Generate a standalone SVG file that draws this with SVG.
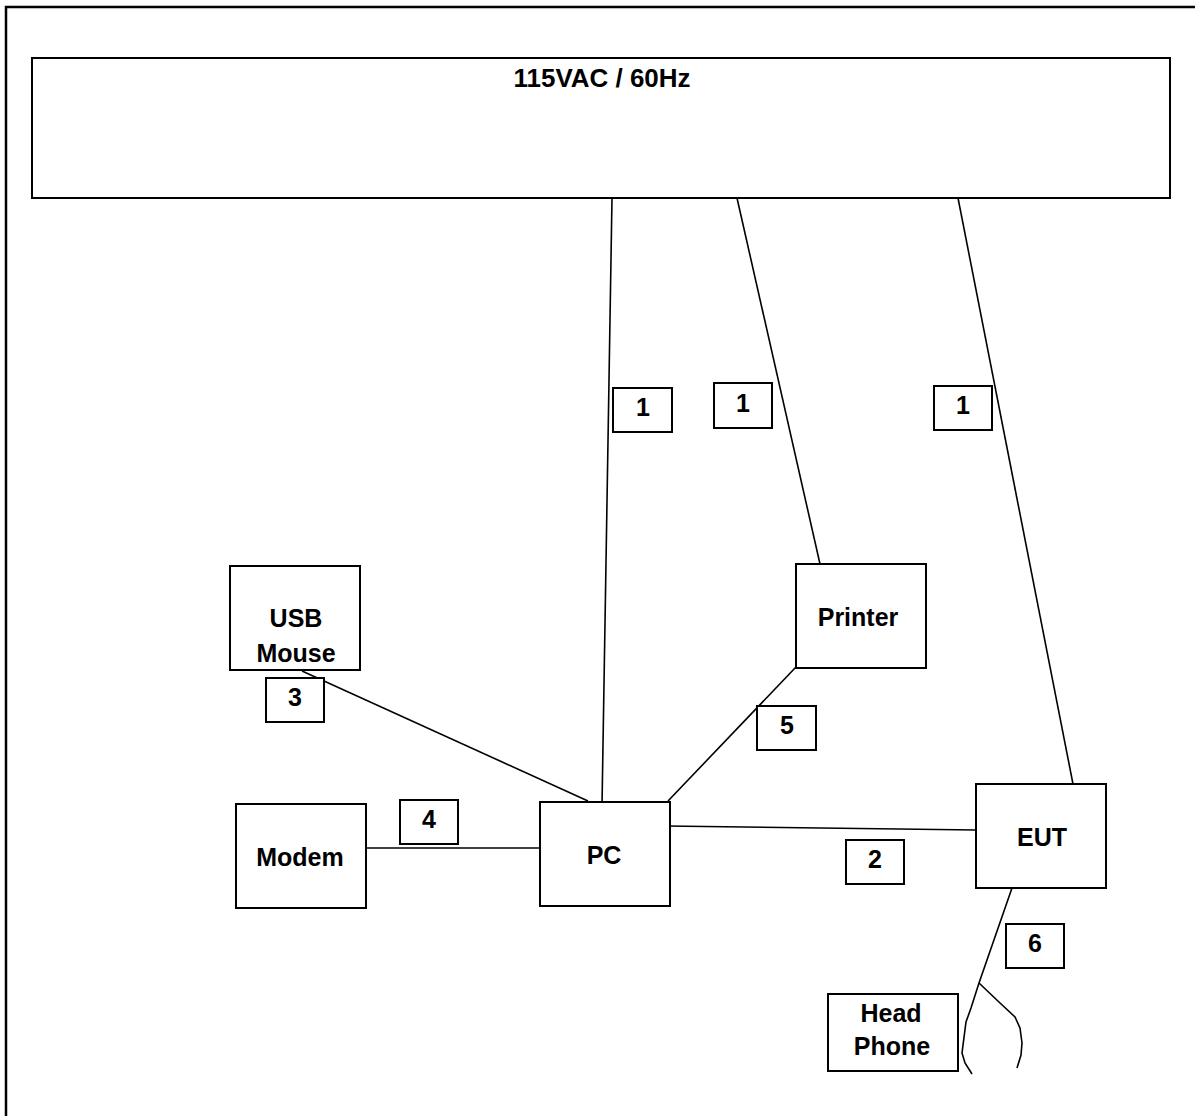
<svg xmlns="http://www.w3.org/2000/svg" width="1195" height="1116" viewBox="0 0 1195 1116">
<style>
.box{fill:#fff;stroke:#000;stroke-width:2}
.lbl{fill:#fff;stroke:#000;stroke-width:2}
.t{font-family:"Liberation Sans",Arial,sans-serif;font-weight:bold;font-size:25px;fill:#000;text-anchor:middle}
.n{font-family:"Liberation Sans",Arial,sans-serif;font-weight:bold;font-size:25px;fill:#000;text-anchor:middle}
.c{fill:none;stroke:#000;stroke-width:1.6}
</style>
<rect width="1195" height="1116" fill="#fff"/>
<rect x="6" y="7" width="1200" height="1120" fill="none" stroke="#000" stroke-width="2.5"/>
<g id="power">
<rect class="box" x="32" y="58" width="1138" height="140"/>
<text class="t" x="602" y="87" textLength="177" lengthAdjust="spacingAndGlyphs">115VAC / 60Hz</text>
</g>
<g id="connectors">
<line class="c" x1="612" y1="198" x2="602" y2="806"/>
<line class="c" x1="737" y1="198" x2="820" y2="564"/>
<line class="c" x1="958" y1="198" x2="1073" y2="784"/>
<line class="c" x1="302" y1="671" x2="588" y2="801"/>
<line class="c" x1="366" y1="848" x2="540" y2="848"/>
<line class="c" x1="796" y1="667" x2="668" y2="801"/>
<line class="c" x1="666" y1="826" x2="976" y2="830"/>
<polyline class="c" points="1012,888 979,983 971,1008 966,1022 962,1053 965,1063 972,1074"/>
<polyline class="c" points="979,983 1000,1003 1015,1017 1020,1028 1022,1043 1021,1055 1017,1068"/>
</g>
<g id="usbmouse">
<rect class="box" x="230" y="566" width="130" height="104"/>
<text class="t" x="296" y="627">USB</text>
<text class="t" x="296" y="662">Mouse</text>
</g>
<g id="modem">
<rect class="box" x="236" y="804" width="130" height="104"/>
<text class="t" x="300" y="866">Modem</text>
</g>
<g id="pc">
<rect class="box" x="540" y="802" width="130" height="104"/>
<text class="t" x="604" y="864">PC</text>
</g>
<g id="printer">
<rect class="box" x="796" y="564" width="130" height="104"/>
<text class="t" x="858" y="626">Printer</text>
</g>
<g id="eut">
<rect class="box" x="976" y="784" width="130" height="104"/>
<text class="t" x="1042" y="846">EUT</text>
</g>
<g id="headphone">
<rect class="box" x="828" y="994" width="130" height="77"/>
<text class="t" x="891" y="1022">Head</text>
<text class="t" x="892" y="1055">Phone</text>
</g>
<g id="label-1a"><rect class="lbl" x="613" y="388" width="59" height="44"/><text class="n" x="643" y="416">1</text></g>
<g id="label-1b"><rect class="lbl" x="714" y="383" width="58" height="45"/><text class="n" x="743" y="412">1</text></g>
<g id="label-1c"><rect class="lbl" x="934" y="386" width="58" height="44"/><text class="n" x="963" y="414">1</text></g>
<g id="label-2"><rect class="lbl" x="846" y="840" width="58" height="44"/><text class="n" x="875" y="868">2</text></g>
<g id="label-3"><rect class="lbl" x="266" y="678" width="58" height="44"/><text class="n" x="295" y="706">3</text></g>
<g id="label-4"><rect class="lbl" x="400" y="800" width="58" height="44"/><text class="n" x="429" y="828">4</text></g>
<g id="label-5"><rect class="lbl" x="757" y="706" width="59" height="44"/><text class="n" x="787" y="734">5</text></g>
<g id="label-6"><rect class="lbl" x="1006" y="924" width="58" height="44"/><text class="n" x="1035" y="952">6</text></g>
</svg>
